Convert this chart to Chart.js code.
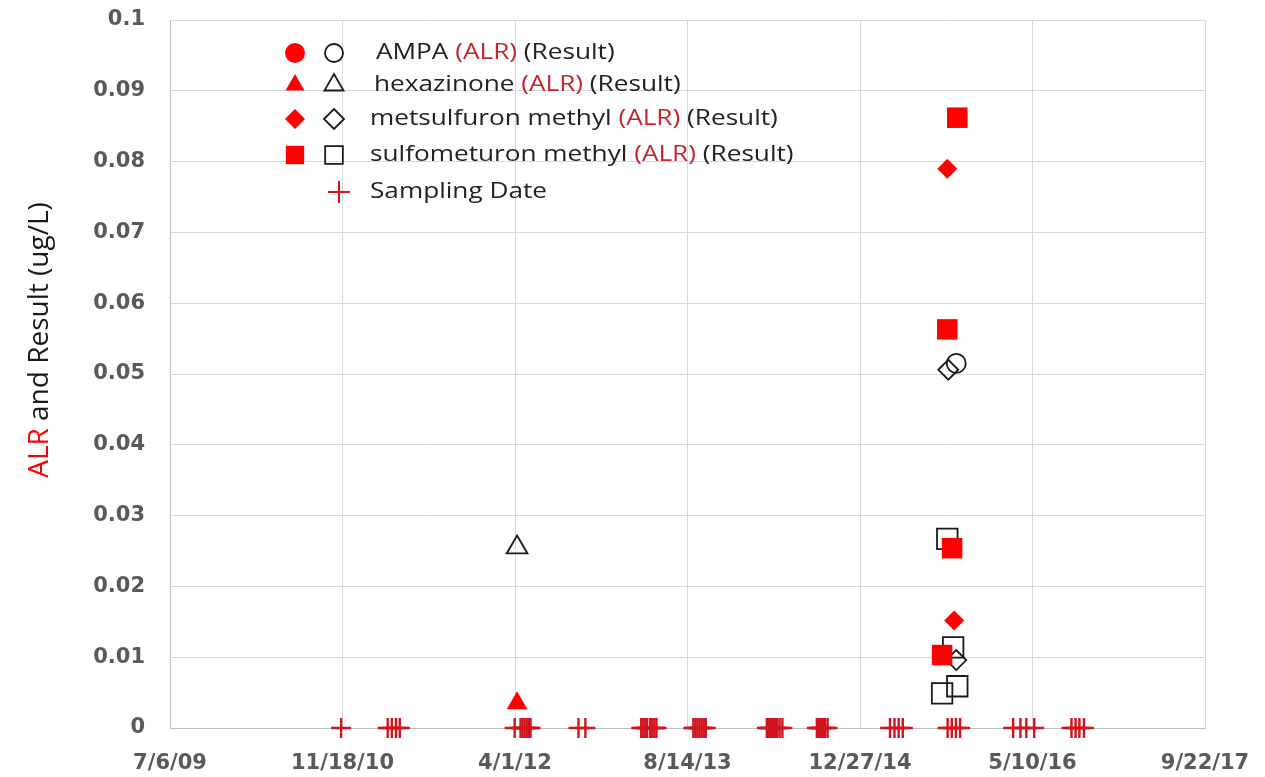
<!DOCTYPE html>
<html><head><meta charset="utf-8">
<script src="https://cdn.jsdelivr.net/npm/chart.js@4.4.1/dist/chart.umd.min.js"></script>
<style>html,body{margin:0;padding:0;background:#fff;}</style>
</head><body>
<canvas id="c" width="1265" height="777"></canvas>
<script>
// X values are Excel serial day numbers (40000 = 7/6/2009)
const xMin = 40000, xMax = 43000, xStep = 500;
const yMin = 0, yMax = 0.1, yStep = 0.01;

const seriesNames = ['AMPA', 'hexazinone', 'metsulfuron methyl', 'sulfometuron methyl'];
const samplingLabel = 'Sampling Date';
const yTitleParts = ['ALR', ' and Result (ug/L)'];

const ampaAlrDates = [];
const ampaAlrValues = [];
const ampaResultDates = [42279];
const ampaResultValues = [0.0515];

const hexAlrDates = [41006];
const hexAlrValues = [0.0035];
const hexResultDates = [41006];
const hexResultValues = [0.0255];

const metAlrDates = [42253, 42273];
const metAlrValues = [0.079, 0.0152];
const metResultDates = [42256, 42279];
const metResultValues = [0.0506, 0.0096];

const sulAlrDates = [42282, 42253, 42267, 42238];
const sulAlrValues = [0.0862, 0.0563, 0.0254, 0.0103];
const sulResultDates = [42253, 42270, 42238, 42282];
const sulResultValues = [0.0267, 0.0114, 0.0049, 0.0059];

const samplingDates = [
  40496,
  40631, 40643, 40655, 40666,
  40999, 41016, 41022, 41028, 41034, 41040, 41045,
  41184, 41204,
  41366, 41372, 41378, 41383, 41392, 41398, 41404, 41410,
  41517, 41523, 41529, 41535, 41541, 41547, 41553,
  41730, 41736, 41742, 41748, 41754, 41760, 41767, 41775,
  41875, 41881, 41887, 41893, 41899, 41906,
  42087, 42100, 42112, 42124,
  42254, 42266, 42278, 42290,
  42444, 42465, 42482, 42505,
  42613, 42625, 42636, 42649
];
const samplingValues = samplingDates.map(() => 0);

function pts(xs, ys) { return xs.map((x, i) => ({ x: x, y: ys[i] })); }
function serialToLabel(v) {
  const d = new Date(Date.UTC(1899, 11, 30) + v * 86400000);
  return (d.getUTCMonth() + 1) + '/' + d.getUTCDate() + '/' + String(d.getUTCFullYear()).slice(2);
}

const RED = '#ff0000';
const BLACK = '#1a1a1a';
const CROSS = '#d2141e';

const styles = ['circle', 'triangle', 'rectRot', 'rect'];
const plotRadius = [9.5, 12, 10, 14.5];

function alrSet(label, data, i) {
  return { label: label + ' ALR', data: data, pointStyle: styles[i], pointRadius: plotRadius[i],
    backgroundColor: RED, borderColor: RED, pointBorderWidth: 0, showLine: false, clip: false };
}
function resSet(label, data, i) {
  return { label: label + ' Result', data: data, pointStyle: styles[i], pointRadius: plotRadius[i],
    backgroundColor: 'rgba(0,0,0,0)', borderColor: BLACK, pointBorderWidth: 1.8, showLine: false, clip: false };
}

const datasets = [
  alrSet(seriesNames[3], pts(sulAlrDates, sulAlrValues), 3),
  alrSet(seriesNames[2], pts(metAlrDates, metAlrValues), 2),
  alrSet(seriesNames[1], pts(hexAlrDates, hexAlrValues), 1),
  alrSet(seriesNames[0], pts(ampaAlrDates, ampaAlrValues), 0),
  resSet(seriesNames[3], pts(sulResultDates, sulResultValues), 3),
  resSet(seriesNames[2], pts(metResultDates, metResultValues), 2),
  resSet(seriesNames[1], pts(hexResultDates, hexResultValues), 1),
  resSet(seriesNames[0], pts(ampaResultDates, ampaResultValues), 0),
  { label: samplingLabel, data: pts(samplingDates, samplingValues), pointStyle: 'cross', pointRadius: 10,
    borderColor: CROSS, backgroundColor: CROSS, pointBorderWidth: 2.4, showLine: false, clip: false }
];

function stretchedText(ctx, parts, x, y, sx) {
  ctx.save();
  ctx.translate(x, y);
  ctx.scale(sx, 1);
  let cx = 0;
  parts.forEach(p => { ctx.fillStyle = p[1]; ctx.fillText(p[0], cx, 0); cx += ctx.measureText(p[0]).width; });
  ctx.restore();
}

const legendPlugin = {
  id: 'customLegend',
  afterDraw(chart) {
    const ctx = chart.ctx;
    const h = Chart.helpers;
    const rowsY = [53, 85, 119, 155];
    const textX = [376, 374, 370, 370];
    const legR = [10, 11, 10, 13];
    const legOpenR = [9, 11, 10, 12.5];
    ctx.save();
    ctx.font = '22px "Open Sans"';
    ctx.textBaseline = 'middle';
    for (let i = 0; i < 4; i++) {
      const y = rowsY[i];
      ctx.fillStyle = RED; ctx.strokeStyle = RED;
      h.drawPoint(ctx, { pointStyle: styles[i], radius: legR[i], rotation: 0, borderWidth: 0 }, 295, y);
      ctx.fillStyle = 'rgba(0,0,0,0)'; ctx.strokeStyle = BLACK; ctx.lineWidth = 1.8;
      h.drawPoint(ctx, { pointStyle: styles[i], radius: legOpenR[i], rotation: 0, borderWidth: 1.8 }, 334, y);
      const parts = [[seriesNames[i] + ' ', '#222222'], ['(ALR)', '#c8262c'], [' (Result)', '#222222']];
      stretchedText(ctx, parts, textX[i], y, 1.19);
    }
    ctx.strokeStyle = CROSS; ctx.lineWidth = 2;
    h.drawPoint(ctx, { pointStyle: 'cross', radius: 11, rotation: 0, borderWidth: 2 }, 339, 192);
    stretchedText(ctx, [[samplingLabel, '#222222']], 370, 192, 1.19);

    // y axis title
    ctx.translate(40, 340);
    ctx.rotate(-Math.PI / 2);
    ctx.font = '28px "Open Sans"';
    const total = yTitleParts.reduce((s, t) => s + ctx.measureText(t).width, 0);
    let tx = -total / 2;
    ctx.textBaseline = 'middle';
    ctx.fillStyle = '#ff0000'; ctx.fillText(yTitleParts[0], tx, 0); tx += ctx.measureText(yTitleParts[0]).width;
    ctx.fillStyle = '#1a1a1a'; ctx.fillText(yTitleParts[1], tx, 0);
    ctx.restore();
  }
};

new Chart(document.getElementById('c'), {
  type: 'scatter',
  data: { datasets: datasets },
  options: {
    responsive: false,
    animation: false,
    layout: { autoPadding: false, padding: { top: 20, right: 60, left: 0, bottom: 0 } },
    plugins: { legend: { display: false }, tooltip: { enabled: false } },
    scales: {
      x: {
        type: 'linear', min: xMin, max: xMax,
        afterFit(s) { s.height = 49; s.paddingLeft = 0; s.paddingRight = 0; },
        afterBuildTicks(s) { const t = []; for (let v = xMin; v <= xMax; v += xStep) t.push({ value: v }); s.ticks = t; },
        ticks: { callback: v => serialToLabel(v), color: '#595959', padding: 23,
          font: { family: 'DejaVu Sans', weight: 'bold', size: 21 }, maxRotation: 0, autoSkip: false },
        grid: { color: '#d9d9d9', lineWidth: 1, drawTicks: false },
        border: { color: '#bfbfbf' }
      },
      y: {
        min: yMin, max: yMax,
        afterFit(s) { s.width = 170; s.paddingTop = 0; s.paddingBottom = 0; },
        afterBuildTicks(s) { const t = []; for (let i = 0; i <= 10; i++) t.push({ value: +(yMin + i * yStep).toFixed(2) }); s.ticks = t; },
        ticks: { callback: v => String(Number(v.toFixed(2))), color: '#595959', padding: 25,
          font: { family: 'DejaVu Sans', weight: 'bold', size: 21 } },
        grid: { color: '#d9d9d9', lineWidth: 1, drawTicks: false },
        border: { color: '#bfbfbf' }
      }
    }
  },
  plugins: [legendPlugin]
});
</script>
</body></html>
